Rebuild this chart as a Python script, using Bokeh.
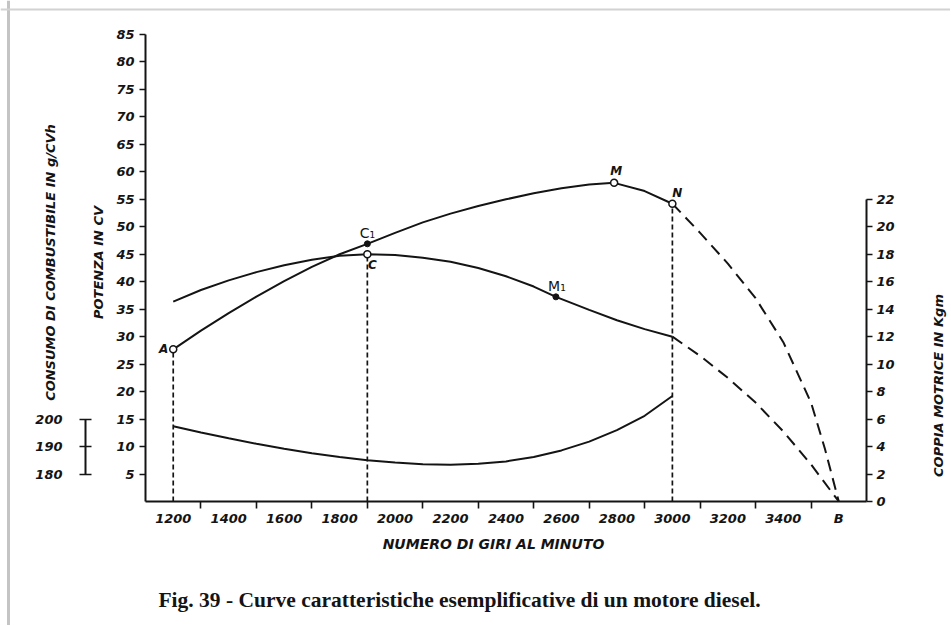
import math
from bokeh.plotting import figure
from bokeh.models import Range1d, LinearAxis, FixedTicker, Label, Span
from bokeh.embed import file_html
from bokeh.resources import INLINE

# ---------------- data ----------------
rpm_power = [1200, 1300, 1400, 1500, 1600, 1700, 1800, 1900, 2000, 2100, 2200,
             2300, 2400, 2500, 2600, 2700, 2790, 2900, 3000]
power_cv = [27.7, 31.1, 34.3, 37.3, 40.1, 42.7, 45.0, 46.9, 48.9, 50.8, 52.4,
            53.8, 55.0, 56.1, 57.0, 57.7, 58.0, 56.5, 54.2]
rpm_power_ext = [3000, 3100, 3200, 3300, 3400, 3500, 3550, 3600]
power_cv_ext = [54.2, 48.9, 43.3, 37.0, 29.0, 18.0, 9.6, 0.0]

rpm_torque = [1200, 1300, 1400, 1500, 1600, 1700, 1800, 1900, 2000, 2100, 2200,
              2300, 2400, 2500, 2580, 2700, 2800, 2900, 3000]
torque_kgm = [14.55, 15.4, 16.1, 16.7, 17.2, 17.6, 17.9, 18.0, 17.95, 17.75, 17.45,
              17.0, 16.4, 15.65, 14.9, 13.95, 13.2, 12.55, 12.0]
rpm_torque_ext = [3000, 3100, 3200, 3300, 3400, 3500, 3600]
torque_kgm_ext = [12.0, 10.6, 9.0, 7.2, 5.1, 2.7, 0.0]

rpm_cons = [1200, 1300, 1400, 1500, 1600, 1700, 1800, 1900, 2000, 2100, 2200,
            2300, 2400, 2500, 2600, 2700, 2800, 2900, 3000]
cons_g = [197.4, 195.1, 193.0, 191.0, 189.2, 187.6, 186.2, 185.0, 184.2, 183.6, 183.4,
          183.7, 184.6, 186.2, 188.6, 191.8, 196.0, 201.2, 208.4]

# marked points
power_pt_names = ["A", "M", "N"]
power_pt_rpm = [1200, 2790, 3000]
power_pt_cv = [27.7, 58.0, 54.2]
c1_rpm, c1_cv = 1900, 46.9          # C1 (filled, on power)
c_rpm, c_kgm = 1900, 18.0           # C (open, on torque)
m1_rpm, m1_kgm = 2580, 14.9         # M1 (filled, on torque)

# axes ticks / labels
x_label_ticks = [1200, 1400, 1600, 1800, 2000, 2200, 2400, 2600, 2800, 3000, 3200, 3400]
x_minor_ticks = [1300, 1500, 1700, 1900, 2100, 2300, 2500, 2700, 2900, 3100, 3300, 3500]
b_rpm = 3600
power_ticks = [5, 10, 15, 20, 25, 30, 35, 40, 45, 50, 55, 60, 65, 70, 75, 80, 85]
torque_ticks = [0, 2, 4, 6, 8, 10, 12, 14, 16, 18, 20, 22]
cons_ticks = [180, 190, 200]

# ---------------- scales: axis box in page pixels ----------------
W, H = 950, 625
RPM_MIN, RPM_MAX = 1100, 3700
PX_LEFT, PX_RIGHT = 145, 866          # rpm axis ends
PY_ZERO, PY_TOP = 501, 34             # power 0 and 85
P_TOP = 85
TORQUE_PER_POWER = 1 / 2.5            # 2 kgm per 5 CV step
CONS_AT_ZERO, CONS_PER_POWER = 170, 2  # 180 g at 5 CV, 200 g at 15 CV

SX = (PX_RIGHT - PX_LEFT) / (RPM_MAX - RPM_MIN)
SY = (PY_ZERO - PY_TOP) / P_TOP


def xd(px):
    return RPM_MIN + (px - PX_LEFT) / SX


def yd(py):
    return (PY_ZERO - py) / SY


y_lo, y_hi = yd(H), yd(0)

INK = "#141414"
FONT = "DejaVu Sans"

p = figure(width=W, height=H, min_border=0, min_border_left=0, min_border_right=0,
           min_border_top=0, min_border_bottom=0,
           x_range=Range1d(xd(0), xd(W)), y_range=Range1d(y_lo, y_hi),
           output_backend="svg", toolbar_location=None, tools="")
p.extra_y_ranges = {
    "torque": Range1d(y_lo * TORQUE_PER_POWER, y_hi * TORQUE_PER_POWER),
    "cons": Range1d(CONS_AT_ZERO + CONS_PER_POWER * y_lo, CONS_AT_ZERO + CONS_PER_POWER * y_hi),
}
p.outline_line_color = None
p.xgrid.visible = False
p.ygrid.visible = False
p.background_fill_color = "white"
p.border_fill_color = "white"

# scanned-page edges
p.add_layout(Span(location=xd(8), dimension="height", line_color="#c4c4c4", line_width=3))
p.add_layout(Span(location=yd(9), dimension="width", line_color="#d2d2d2", line_width=2))


def style_axis(ax, size="13px"):
    ax.axis_line_color = INK
    ax.axis_line_width = 2
    ax.major_tick_line_color = INK
    ax.major_tick_line_width = 1.6
    ax.minor_tick_line_color = INK
    ax.minor_tick_line_width = 1.6
    ax.major_label_text_font = FONT
    ax.major_label_text_font_style = "bold italic"
    ax.major_label_text_font_size = size
    ax.major_label_text_color = INK


# x axis (rpm)
xa = p.xaxis[0]
style_axis(xa)
xa.fixed_location = 0
xa.bounds = (RPM_MIN, RPM_MAX)
xa.ticker = FixedTicker(ticks=x_label_ticks + [b_rpm], minor_ticks=x_minor_ticks)
xa.major_label_overrides = {b_rpm: "B"}
xa.major_tick_out = 0
xa.major_tick_in = 0
xa.minor_tick_out = 7
xa.minor_tick_in = 0
xa.major_label_standoff = 2

# main left axis (power)
ya = p.yaxis[0]
style_axis(ya)
ya.fixed_location = RPM_MIN
ya.ticker = FixedTicker(ticks=power_ticks)
ya.bounds = (0, P_TOP)
ya.major_tick_out = 6
ya.major_tick_in = 0
ya.minor_tick_out = 0
ya.minor_tick_in = 0
ya.major_label_standoff = 5

# consumption axis (far left)
ca = LinearAxis(y_range_name="cons", ticker=FixedTicker(ticks=cons_ticks),
                bounds=(min(cons_ticks), max(cons_ticks)), fixed_location=xd(85))
style_axis(ca)
ca.major_tick_in = 6
ca.major_tick_out = 6
ca.minor_tick_in = 0
ca.minor_tick_out = 0
ca.major_label_standoff = 17
p.add_layout(ca, "left")

# right axis (torque)
ra = LinearAxis(y_range_name="torque", ticker=FixedTicker(ticks=torque_ticks),
                bounds=(min(torque_ticks), max(torque_ticks)), fixed_location=RPM_MAX)
style_axis(ra)
ra.major_tick_out = 6
ra.major_tick_in = 0
ra.minor_tick_in = 0
ra.minor_tick_out = 0
ra.major_label_standoff = 4
p.add_layout(ra, "right")

# ---------------- curves ----------------
p.line(rpm_power, power_cv, line_width=2, line_color=INK)
p.line(rpm_power_ext, power_cv_ext, line_width=2, line_color=INK, line_dash="12 7")
p.line(rpm_torque, torque_kgm, line_width=2, line_color=INK, y_range_name="torque")
p.line(rpm_torque_ext, torque_kgm_ext, line_width=2, line_color=INK, line_dash="12 7",
       y_range_name="torque")
p.line(rpm_cons, cons_g, line_width=2, line_color=INK, y_range_name="cons")

# vertical dashed drop lines
vx = [power_pt_rpm[0], power_pt_rpm[2]]
vy = [power_pt_cv[0], power_pt_cv[2]]
p.segment(x0=vx, y0=[0] * len(vx), x1=vx, y1=vy, line_width=1.7, line_color=INK,
          line_dash="5 3")
p.segment(x0=[c_rpm], y0=[0], x1=[c_rpm], y1=[c_kgm], line_width=1.7, line_color=INK,
          line_dash="5 3", y_range_name="torque")

# points
p.scatter([c1_rpm], [c1_cv], size=6, fill_color=INK, line_color=INK)
p.scatter([m1_rpm], [m1_kgm], size=6, fill_color=INK, line_color=INK, y_range_name="torque")
p.scatter(power_pt_rpm, power_pt_cv, size=7, fill_color="white", line_color=INK,
          line_width=1.5)
p.scatter([c_rpm], [c_kgm], size=7, fill_color="white", line_color=INK, line_width=1.5,
          y_range_name="torque")


# ---------------- texts ----------------
def note(text, x, y, dx=0, dy=0, size="12px", style="bold italic", align="center",
         rng="default", font=FONT, angle=0.0, baseline="middle"):
    p.add_layout(Label(x=x, y=y, x_offset=dx, y_offset=dy, text=text, text_font=font,
                       text_font_size=size, text_font_style=style, text_color=INK,
                       text_align=align, text_baseline=baseline, y_range_name=rng,
                       angle=angle))


note(power_pt_names[0], power_pt_rpm[0], power_pt_cv[0], dx=-5, align="right")
note(power_pt_names[1], power_pt_rpm[1], power_pt_cv[1], dx=2, dy=12)
note(power_pt_names[2], power_pt_rpm[2], power_pt_cv[2], dx=5, dy=11)
note("C₁", c1_rpm, c1_cv, dx=0, dy=11, size="14px", style="normal")
note("C", c_rpm, c_kgm, dx=5, dy=-11, rng="torque")
note("M₁", m1_rpm, m1_kgm, dx=1, dy=11, size="14px", style="normal", rng="torque")

# axis titles and caption (page-pixel positions)
note("CONSUMO DI COMBUSTIBILE IN g/CVh", xd(50), yd(262), size="13px", angle=math.pi / 2)
note("POTENZA IN CV", xd(98), yd(262), size="13px", angle=math.pi / 2)
note("COPPIA MOTRICE IN Kgm", xd(938), yd(385), size="13px", angle=math.pi / 2)
note("NUMERO DI GIRI AL MINUTO", xd(493), yd(543), size="14px")
note("Fig. 39 - Curve caratteristiche esemplificative di un motore diesel.",
     xd(459), yd(599), size="21.5px", style="bold", font="Liberation Serif",
     baseline="alphabetic")

open("out.html", "w").write(file_html(p, INLINE))
